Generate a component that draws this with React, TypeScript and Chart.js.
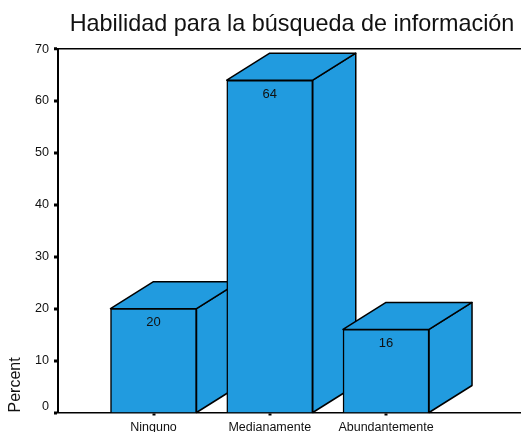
import React, { useEffect, useRef } from "react";
import { Chart, registerables } from "chart.js";

Chart.register(...registerables);

const categories = ["Ninguno", "Medianamente", "Abundantemente"];
const percentValues = [20, 64, 16];
const titleText = "Habilidad para la búsqueda de información";
const yAxisLabel = "Percent";

const FONT = "'Liberation Sans', Arial, sans-serif";
const FILL = "#219bdf";
const DEPTH_X = 43;
const DEPTH_Y = 27;

const cubePlugin = {
  id: "cube",
  afterLayout(chart: any) {
    chart.titleBlock.left += 2.5;
    chart.titleBlock.right += 2.5;
  },
  beforeDatasetsDraw(chart: any) {
    const { ctx, scales } = chart;
    const half = chart.getDatasetMeta(0).data[0].width / 2;
    ctx.save();
    ctx.fillStyle = FILL;
    ctx.strokeStyle = "#000";
    ctx.lineWidth = 1.5;
    ctx.lineJoin = "round";
    percentValues.forEach((v, i) => {
      const l = scales.x.getPixelForValue(i) - half;
      const r = scales.x.getPixelForValue(i) + half;
      const t = scales.y.getPixelForValue(v);
      const b = scales.y.getPixelForValue(0);
      ctx.beginPath();
      ctx.moveTo(r, b);
      ctx.lineTo(r + DEPTH_X, b - DEPTH_Y);
      ctx.lineTo(r + DEPTH_X, t - DEPTH_Y);
      ctx.lineTo(r, t);
      ctx.closePath();
      ctx.fill();
      ctx.stroke();
      ctx.beginPath();
      ctx.moveTo(l, t);
      ctx.lineTo(l + DEPTH_X, t - DEPTH_Y);
      ctx.lineTo(r + DEPTH_X, t - DEPTH_Y);
      ctx.lineTo(r, t);
      ctx.closePath();
      ctx.fill();
      ctx.stroke();
    });
    ctx.restore();
  },
  afterDatasetsDraw(chart: any) {
    const { ctx, scales } = chart;
    ctx.save();
    ctx.fillStyle = "#111";
    ctx.font = `13px ${FONT}`;
    ctx.textAlign = "center";
    ctx.textBaseline = "middle";
    percentValues.forEach((v, i) => {
      ctx.fillText(String(v), scales.x.getPixelForValue(i), scales.y.getPixelForValue(v) + 14);
    });
    ctx.restore();
  },
};

export default function App() {
  const ref = useRef<HTMLCanvasElement>(null);
  useEffect(() => {
    const chart = new Chart(ref.current as HTMLCanvasElement, {
      type: "bar",
      data: {
        datasets: [
          {
            data: percentValues.map((y, x) => ({ x, y })),
            backgroundColor: FILL,
            borderColor: "#000",
            borderWidth: 1.5,
            barThickness: 86,
          },
        ],
      },
      options: {
        responsive: false,
        animation: false,
        layout: { padding: 0 },
        scales: {
          x: {
            type: "linear",
            offset: false,
            min: -0.8215,
            max: 3.161,
            afterFit: (s: any) => { s.height = 19.5; },
            afterBuildTicks: (s: any) => { s.ticks = categories.map((_, value) => ({ value })); },
            border: { color: "#000", width: 1.5 },
            grid: { offset: false, lineWidth: 0, drawTicks: true, tickLength: 3, tickWidth: 3, tickColor: "#000" },
            ticks: {
              autoSkip: false,
              maxRotation: 0,
              padding: 5,
              color: "#111",
              font: { family: FONT, size: 12.5 },
              callback: (v: any) => categories[v],
            },
          },
          y: {
            min: 0,
            max: 70,
            afterFit: (s: any) => { s.width = 58; },
            border: { color: "#000", width: 2 },
            grid: {
              lineWidth: (c: any) => (c.tick && c.tick.value === 70 ? 1.5 : 0),
              color: "#000",
              tickLength: 4,
              tickWidth: 3,
              tickColor: "#000",
            },
            ticks: {
              stepSize: 10,
              padding: 5,
              color: "#111",
              font: { family: FONT, size: 12.6, lineHeight: 1 },
              callback: (v: any) => (v === 0 ? ["0", ""] : String(v)),
            },
            title: {
              display: true,
              text: yAxisLabel,
              align: "start",
              color: "#111",
              padding: { top: 6, bottom: 0 },
              font: { family: FONT, size: 16 },
            },
          },
        },
        plugins: {
          legend: { display: false },
          tooltip: { enabled: false },
          title: {
            display: true,
            text: titleText,
            fullSize: false,
            color: "#111",
            padding: { top: 11, bottom: 10 },
            font: { family: FONT, size: 23.4, weight: "normal" },
          },
        },
      },
      plugins: [cubePlugin],
    } as any);
    return () => chart.destroy();
  }, []);
  return (
    <canvas
      ref={ref}
      width={521}
      height={432}
      style={{ position: "fixed", left: 0, top: 0, display: "block" }}
    />
  );
}
